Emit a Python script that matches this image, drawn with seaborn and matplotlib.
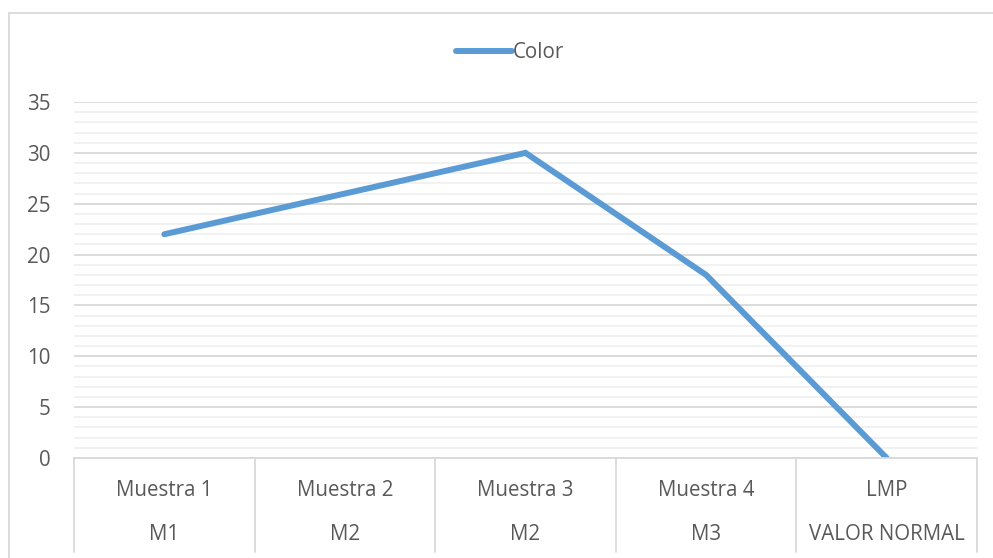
import matplotlib
matplotlib.use("Agg")
import matplotlib.pyplot as plt
import seaborn as sns
import pandas as pd
import numpy as np
from matplotlib.patches import Rectangle
from matplotlib.lines import Line2D
from matplotlib.ticker import MultipleLocator

categories = ["Muestra 1", "Muestra 2", "Muestra 3", "Muestra 4", "LMP"]
groups = ["M1", "M2", "M2", "M3", "VALOR NORMAL"]
values = [22, 26, 30, 18, 0]
series_name = "Color"

sns.set_theme(style="white")
plt.rcParams['font.family'] = ['Open Sans', 'DejaVu Sans']

TXT = "#595959"
LINE = "#5B9BD5"
GRID = "#D9D9D9"
MINOR = "#F0F0F0"
FS = 14.8

df = pd.DataFrame({"pos": np.arange(len(categories)), "value": values, "series": series_name})

fig = plt.figure(figsize=(9.93, 5.58), dpi=100)
W, H = 993, 558
ax = fig.add_axes([74 / W, 1 - 458 / H, (977 - 74) / W, (458 - 102) / H])

sns.lineplot(data=df, x="pos", y="value", ax=ax, color=LINE, linewidth=4.3,
             legend=False, solid_capstyle="round", solid_joinstyle="miter")

ax.set_xlim(-0.5, len(categories) - 0.5)
ax.set_ylim(0, 35)
ax.yaxis.set_major_locator(MultipleLocator(5))
ax.yaxis.set_minor_locator(MultipleLocator(1))
ax.grid(which="major", axis="y", color=GRID, linewidth=1.3)
ax.grid(which="minor", axis="y", color=MINOR, linewidth=1.3)
ax.set_axisbelow(True)
for s in ["top", "right", "left"]:
    ax.spines[s].set_visible(False)
ax.spines["bottom"].set_color(GRID)
ax.spines["bottom"].set_linewidth(1.3)
ax.tick_params(axis="y", which="both", length=0, labelsize=FS, labelcolor=TXT, pad=17)
ax.set_xticks([])
ax.set_xlabel("")
ax.set_ylabel("")

ax_h = 458 - 102
trans = ax.get_xaxis_transform()
for i, (c, g) in enumerate(zip(categories, groups)):
    ax.text(i, -(490 - 458) / ax_h, c, transform=trans, ha="center", va="center",
            fontsize=FS, color=TXT)
    ax.text(i, -(535 - 458) / ax_h, g, transform=trans, ha="center", va="center",
            fontsize=FS, color=TXT)
for b in np.arange(len(categories) + 1) - 0.5:
    ax.add_line(Line2D([b, b], [0, -(552 - 458) / ax_h], transform=trans,
                       color=GRID, linewidth=1.3, clip_on=False))

handle = Line2D([0], [0], color=LINE, linewidth=4.3, solid_capstyle="round")
leg = fig.legend([handle], [series_name], loc="center",
                 bbox_to_anchor=(510 / W, 1 - 53 / H), frameon=False,
                 fontsize=FS, handlelength=2.75, handletextpad=0.05)
for t in leg.get_texts():
    t.set_color(TXT)

fig.patches.append(Rectangle((9 / W, -0.05), 1.1, 1 - 13 / H + 0.05,
                             transform=fig.transFigure, fill=False,
                             edgecolor=GRID, linewidth=1.3))

fig.savefig("out.png", dpi=100, facecolor="white")
